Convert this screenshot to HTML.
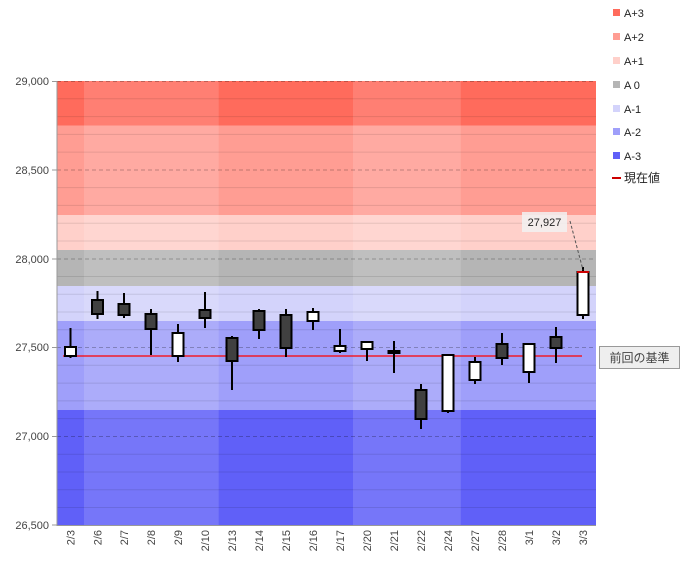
<!DOCTYPE html>
<html><head><meta charset="utf-8"><style>
html,body{margin:0;padding:0;background:#fff;}
svg{display:block;font-family:"Liberation Sans","Noto Sans CJK JP",sans-serif;}
</style></head><body>
<svg width="686" height="574" viewBox="0 0 686 574" xmlns="http://www.w3.org/2000/svg">
<!-- bands -->
<rect x="57" y="81" width="539" height="44.5" fill="#ff6b5c"/>
<rect x="57" y="125.5" width="539" height="89.5" fill="#ff9d93"/>
<rect x="57" y="215" width="539" height="35" fill="#ffd0ca"/>
<rect x="57" y="250" width="539" height="36" fill="#b5b5b5"/>
<rect x="57" y="286" width="539" height="35" fill="#d3d3fb"/>
<rect x="57" y="321" width="539" height="89" fill="#9f9ffa"/>
<rect x="57" y="410" width="539" height="115" fill="#6060f8"/>
<!-- lighter week columns -->
<rect x="84" y="81" width="134.7" height="444" fill="#fff" fill-opacity="0.14"/>
<rect x="353" y="81" width="107.8" height="444" fill="#fff" fill-opacity="0.14"/>
<!-- minor grid -->
<g stroke="#000" stroke-opacity="0.1" stroke-width="1">
<line x1="57" x2="596" y1="98.8" y2="98.8"/><line x1="57" x2="596" y1="116.6" y2="116.6"/><line x1="57" x2="596" y1="134.4" y2="134.4"/><line x1="57" x2="596" y1="152.1" y2="152.1"/>
<line x1="57" x2="596" y1="187.6" y2="187.6"/><line x1="57" x2="596" y1="205.4" y2="205.4"/><line x1="57" x2="596" y1="223.2" y2="223.2"/><line x1="57" x2="596" y1="241" y2="241"/>
<line x1="57" x2="596" y1="276.5" y2="276.5"/><line x1="57" x2="596" y1="294.3" y2="294.3"/><line x1="57" x2="596" y1="312" y2="312"/><line x1="57" x2="596" y1="329.8" y2="329.8"/>
<line x1="57" x2="596" y1="365.3" y2="365.3"/><line x1="57" x2="596" y1="383.1" y2="383.1"/><line x1="57" x2="596" y1="400.9" y2="400.9"/><line x1="57" x2="596" y1="418.6" y2="418.6"/>
<line x1="57" x2="596" y1="454.2" y2="454.2"/><line x1="57" x2="596" y1="472" y2="472"/><line x1="57" x2="596" y1="489.7" y2="489.7"/><line x1="57" x2="596" y1="507.5" y2="507.5"/>
</g>
<g stroke="#000" stroke-opacity="0.25" stroke-dasharray="4,3">
<line x1="57" x2="596" y1="81.5" y2="81.5"/><line x1="57" x2="596" y1="170" y2="170"/><line x1="57" x2="596" y1="259" y2="259"/><line x1="57" x2="596" y1="347.5" y2="347.5"/><line x1="57" x2="596" y1="436.5" y2="436.5"/>
</g>
<!-- axes -->
<g stroke="#999" stroke-width="1">
<line x1="57" y1="81" x2="57" y2="526"/><line x1="57" y1="525.5" x2="596" y2="525.5"/>
<line x1="52" x2="57" y1="81.5" y2="81.5"/><line x1="52" x2="57" y1="170" y2="170"/><line x1="52" x2="57" y1="259" y2="259"/><line x1="52" x2="57" y1="347.5" y2="347.5"/><line x1="52" x2="57" y1="436.5" y2="436.5"/><line x1="52" x2="57" y1="525" y2="525"/>
</g>
<g font-size="11" fill="#444" text-anchor="end">
<text x="49" y="85">29,000</text><text x="49" y="174">28,500</text><text x="49" y="263">28,000</text><text x="49" y="351">27,500</text><text x="49" y="440">27,000</text><text x="49" y="529">26,500</text>
</g>
<!-- x labels -->
<g font-size="11" fill="#444" text-anchor="end">
<text transform="translate(74.5,530) rotate(-90)">2/3</text>
<text transform="translate(101.5,530) rotate(-90)">2/6</text>
<text transform="translate(128,530) rotate(-90)">2/7</text>
<text transform="translate(155,530) rotate(-90)">2/8</text>
<text transform="translate(182,530) rotate(-90)">2/9</text>
<text transform="translate(209,530) rotate(-90)">2/10</text>
<text transform="translate(236,530) rotate(-90)">2/13</text>
<text transform="translate(263,530) rotate(-90)">2/14</text>
<text transform="translate(290,530) rotate(-90)">2/15</text>
<text transform="translate(317,530) rotate(-90)">2/16</text>
<text transform="translate(344,530) rotate(-90)">2/17</text>
<text transform="translate(371,530) rotate(-90)">2/20</text>
<text transform="translate(398,530) rotate(-90)">2/21</text>
<text transform="translate(425,530) rotate(-90)">2/22</text>
<text transform="translate(452,530) rotate(-90)">2/24</text>
<text transform="translate(479,530) rotate(-90)">2/27</text>
<text transform="translate(506,530) rotate(-90)">2/28</text>
<text transform="translate(533,530) rotate(-90)">3/1</text>
<text transform="translate(560,530) rotate(-90)">3/2</text>
<text transform="translate(587,530) rotate(-90)">3/3</text>
</g>
<!-- red line -->
<line x1="63" y1="356" x2="582" y2="356" stroke="#ff0000" stroke-width="1.3"/>
<!-- candles -->
<g stroke="#000" stroke-width="2">
<line x1="70.5" y1="328" x2="70.5" y2="358"/><rect x="65" y="347" width="11" height="9" fill="#fff"/>
<line x1="97.5" y1="291" x2="97.5" y2="319"/><rect x="92" y="300" width="11" height="14" fill="#404040"/>
<line x1="124" y1="293" x2="124" y2="318"/><rect x="118.5" y="304" width="11" height="11" fill="#404040"/>
<line x1="151" y1="309" x2="151" y2="355"/><rect x="145.5" y="314" width="11" height="15" fill="#404040"/>
<line x1="178" y1="324" x2="178" y2="362"/><rect x="172.5" y="333" width="11" height="23" fill="#fff"/>
<line x1="205" y1="292" x2="205" y2="328"/><rect x="199.5" y="310" width="11" height="8" fill="#404040"/>
<line x1="232" y1="336" x2="232" y2="390"/><rect x="226.5" y="338" width="11" height="23" fill="#404040"/>
<line x1="259" y1="309" x2="259" y2="339"/><rect x="253.5" y="311" width="11" height="19" fill="#404040"/>
<line x1="286" y1="309" x2="286" y2="357"/><rect x="280.5" y="315" width="11" height="33" fill="#404040"/>
<line x1="313" y1="308" x2="313" y2="330"/><rect x="307.5" y="312" width="11" height="9" fill="#fff"/>
<line x1="340" y1="329" x2="340" y2="353"/><rect x="334.5" y="346" width="11" height="5" fill="#fff"/>
<line x1="367" y1="341" x2="367" y2="361"/><rect x="361.5" y="342" width="11" height="7" fill="#fff"/>
<line x1="394" y1="341" x2="394" y2="373"/><rect x="388.5" y="351" width="11" height="2" fill="#404040"/>
<line x1="421" y1="384" x2="421" y2="429"/><rect x="415.5" y="390" width="11" height="29" fill="#404040"/>
<line x1="448" y1="354" x2="448" y2="413"/><rect x="442.5" y="355" width="11" height="56" fill="#fff"/>
<line x1="475" y1="357" x2="475" y2="384"/><rect x="469.5" y="362" width="11" height="18" fill="#fff"/>
<line x1="502" y1="333" x2="502" y2="365"/><rect x="496.5" y="344" width="11" height="14" fill="#404040"/>
<line x1="529" y1="343" x2="529" y2="383"/><rect x="523.5" y="344" width="11" height="28" fill="#fff"/>
<line x1="556" y1="327" x2="556" y2="363"/><rect x="550.5" y="337" width="11" height="11" fill="#404040"/>
<line x1="583" y1="267" x2="583" y2="319"/><rect x="577.5" y="272" width="11" height="43" fill="#fff"/>
</g>
<line x1="577" y1="272" x2="589" y2="272" stroke="#c00" stroke-width="2"/>
<!-- current label -->
<rect x="522" y="212" width="45" height="20" fill="#f2f2f2" fill-opacity="0.85"/>
<text x="544.5" y="226" font-size="11" fill="#222" text-anchor="middle">27,927</text>
<line x1="570" y1="221" x2="583" y2="270" stroke="#555" stroke-dasharray="3,2"/>
<!-- prev label -->
<rect x="599.5" y="346.5" width="80" height="22" fill="#eee" stroke="#999"/>
<text x="639.5" y="362" font-size="12" fill="#444" text-anchor="middle">前回の基準</text>
<!-- legend -->
<g font-size="11" fill="#222">
<rect x="613" y="9" width="7" height="7" fill="#ff6b5c"/><text x="624" y="17">A+3</text>
<rect x="613" y="33" width="7" height="7" fill="#ff9d93"/><text x="624" y="41">A+2</text>
<rect x="613" y="57" width="7" height="7" fill="#ffd0ca"/><text x="624" y="65">A+1</text>
<rect x="613" y="81" width="7" height="7" fill="#b5b5b5"/><text x="624" y="89">A 0</text>
<rect x="613" y="105" width="7" height="7" fill="#d3d3fb"/><text x="624" y="113">A-1</text>
<rect x="613" y="128" width="7" height="7" fill="#9f9ffa"/><text x="624" y="136">A-2</text>
<rect x="613" y="152" width="7" height="7" fill="#6060f8"/><text x="624" y="160">A-3</text>
<line x1="612" y1="178" x2="621" y2="178" stroke="#c00" stroke-width="2"/><text x="624" y="182" font-size="12">現在値</text>
</g>
</svg>
</body></html>
